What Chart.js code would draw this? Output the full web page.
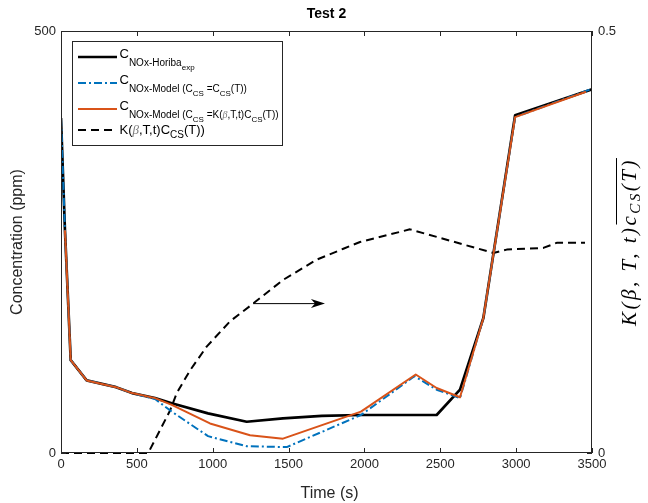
<!DOCTYPE html>
<html>
<head>
<meta charset="utf-8">
<script src="https://cdn.jsdelivr.net/npm/chart.js@4.4.1/dist/chart.umd.min.js"></script>
<style>
  html, body { margin: 0; padding: 0; background: #fff; }
</style>
</head>
<body>
<canvas id="chart" width="648" height="503"></canvas>
<script>
// Measured NOx (Horiba)
const tHoriba = [0, 26, 64, 169, 363, 468, 620, 730, 969, 1224, 1463, 1719, 1977, 2476, 2630, 2784, 2993, 3500];
const cHoriba = [397, 264, 110, 86, 78, 71, 65, 59, 47, 37, 41, 44, 45, 45, 75, 160, 400, 431];

// Model with C_CS = C_CS(T)
const tModelCs = [0, 26, 64, 169, 363, 468, 620, 730, 969, 1224, 1488, 1977, 2330, 2476, 2630, 2784, 2993, 3490];
const cModelCs = [397, 264, 110, 86, 78, 71, 64, 49, 20, 8, 7, 45, 91, 75, 65, 160, 398, 431];

// Model with C_CS = K(beta,T,t) C_CS(T)
const tModelK = [26, 64, 169, 363, 468, 620, 730, 982, 1246, 1463, 1977, 2338, 2476, 2630, 2784, 2993, 3460];
const cModelK = [264, 110, 86, 78, 71, 65, 57, 35, 21, 17, 49, 93, 77, 66, 160, 398, 428];

// K(beta,T,t) C_CS(T) on the right axis
const tK = [0, 575, 718, 763, 851, 960, 1114, 1266, 1463, 1685, 1861, 1971, 2300, 2850, 2938, 3179, 3267, 3454];
const kValues = [0, 0, 0.050, 0.071, 0.098, 0.126, 0.156, 0.177, 0.205, 0.229, 0.242, 0.250, 0.265, 0.237, 0.241, 0.243, 0.249, 0.249];

const xTicks = [0, 500, 1000, 1500, 2000, 2500, 3000, 3500];
const yTicks = [0, 500];
const y1Ticks = [0, 0.5];

// arrow pointing at the right axis
const arrowFrom = [1266, 0.177];
const arrowTo = [1740, 0.177];

const SANS = '"Liberation Sans", Arial, Helvetica, sans-serif';
const SERIF = '"Liberation Serif", "Times New Roman", serif';
const AXIS_COLOR = '#262626';

const BLACK = '#000000';
const BLUE = '#0072BD';
const ORANGE = '#D95319';

function pts(ts, vs) {
    return ts.map((t, i) => ({ x: t, y: vs[i] }));
}

// text runs with sub/superscript offsets
function drawRuns(ctx, x, y, runs) {
    runs.forEach(r => {
        ctx.font = (r.italic ? 'italic ' : '') + r.size + 'px ' + (r.serif ? SERIF : SANS);
        ctx.fillStyle = r.color || '#000';
        ctx.fillText(r.text, x, y + (r.dy || 0));
        x += ctx.measureText(r.text).width;
    });
    return x;
}

function runsWidth(ctx, runs) {
    let w = 0;
    runs.forEach(r => {
        ctx.font = (r.italic ? 'italic ' : '') + r.size + 'px ' + (r.serif ? SERIF : SANS);
        w += ctx.measureText(r.text).width;
    });
    return w;
}

const BETA = { text: 'β', size: 10, italic: true, serif: true, color: '#7a7a7a', dy: 8 };

const legendRows = [
    {
        color: BLACK, width: 2.7, dash: [],
        runs: [
            { text: 'C', size: 13 },
            { text: 'NOx-Horiba', size: 10, dy: 8 },
            { text: 'exp', size: 8, dy: 12 }
        ]
    },
    {
        color: BLUE, width: 2, dash: [8, 3, 2, 3],
        runs: [
            { text: 'C', size: 13 },
            { text: 'NOx-Model (C', size: 10, dy: 8 },
            { text: 'CS', size: 8, dy: 12 },
            { text: ' =C', size: 10, dy: 8 },
            { text: 'CS', size: 8, dy: 12 },
            { text: '(T))', size: 10, dy: 8 }
        ]
    },
    {
        color: ORANGE, width: 2, dash: [],
        runs: [
            { text: 'C', size: 13 },
            { text: 'NOx-Model (C', size: 10, dy: 8 },
            { text: 'CS', size: 8, dy: 12 },
            { text: ' =K(', size: 10, dy: 8 },
            BETA,
            { text: ',T,t)C', size: 10, dy: 8 },
            { text: 'CS', size: 8, dy: 12 },
            { text: '(T))', size: 10, dy: 8 }
        ]
    },
    {
        color: BLACK, width: 2, dash: [8, 5],
        runs: [
            { text: 'K(', size: 13 },
            { text: 'β', size: 13, italic: true, serif: true, color: '#7a7a7a' },
            { text: ',T,t)C', size: 13 },
            { text: 'CS', size: 10, dy: 4 },
            { text: '(T))', size: 13 }
        ]
    }
];

const decor = {
    id: 'decor',
    afterDraw(chart) {
        const ctx = chart.ctx;
        const a = chart.chartArea;
        const xs = chart.scales.x, ys = chart.scales.y, y1 = chart.scales.y1;
        ctx.save();

        // axes box
        ctx.strokeStyle = AXIS_COLOR;
        ctx.lineWidth = 1;
        ctx.setLineDash([]);
        ctx.strokeRect(Math.round(a.left) + 0.5, Math.round(a.top) + 0.5,
            Math.round(a.right - a.left) - 1, Math.round(a.bottom - a.top) - 1);

        // inward ticks
        ctx.beginPath();
        xTicks.forEach(v => {
            const px = Math.round(xs.getPixelForValue(v)) + 0.5;
            ctx.moveTo(px, a.bottom); ctx.lineTo(px, a.bottom - 5);
            ctx.moveTo(px, a.top); ctx.lineTo(px, a.top + 5);
        });
        yTicks.forEach(v => {
            const py = Math.round(ys.getPixelForValue(v)) + 0.5;
            ctx.moveTo(a.left, py); ctx.lineTo(a.left + 5, py);
        });
        y1Ticks.forEach(v => {
            const py = Math.round(y1.getPixelForValue(v)) + 0.5;
            ctx.moveTo(a.right, py); ctx.lineTo(a.right - 5, py);
        });
        ctx.stroke();

        const cx = (a.left + a.right) / 2;
        const cy = (a.top + a.bottom) / 2;

        // title
        ctx.fillStyle = '#000';
        ctx.textAlign = 'center';
        ctx.textBaseline = 'alphabetic';
        ctx.font = 'bold 14px ' + SANS;
        ctx.fillText('Test 2', cx, 18);

        // x label
        ctx.fillStyle = AXIS_COLOR;
        ctx.font = '16px ' + SANS;
        ctx.fillText('Time (s)', cx + 3, 498);

        // left y label
        ctx.save();
        ctx.translate(22, cy);
        ctx.rotate(-Math.PI / 2);
        ctx.fillText('Concentration (ppm)', 0, 0);
        ctx.restore();

        // right y label: K(beta,T,t) overline{c_CS(T)}
        const rl = [
            { text: 'K(β, T, t)', size: 21, italic: true, serif: true, color: '#000' },
            { text: 'c', size: 21, italic: true, serif: true, color: '#000' },
            { text: 'CS', size: 15, italic: true, serif: true, color: '#000', dy: 4 },
            { text: '(T)', size: 21, italic: true, serif: true, color: '#000' }
        ];
        ctx.save();
        ctx.translate(636, cy);
        ctx.rotate(-Math.PI / 2);
        ctx.textAlign = 'left';
        ctx.letterSpacing = '2.5px';
        const w = runsWidth(ctx, rl);
        const wFirst = runsWidth(ctx, rl.slice(0, 1));
        drawRuns(ctx, -w / 2, 0, rl);
        ctx.letterSpacing = '0px';
        ctx.strokeStyle = '#000';
        ctx.lineWidth = 1;
        ctx.beginPath();
        ctx.moveTo(-w / 2 + wFirst + 1, -19.5);
        ctx.lineTo(w / 2, -19.5);
        ctx.stroke();
        ctx.restore();

        // arrow
        const ax0 = xs.getPixelForValue(arrowFrom[0]);
        const ax1 = xs.getPixelForValue(arrowTo[0]);
        const ay = y1.getPixelForValue(arrowFrom[1]);
        ctx.strokeStyle = '#000';
        ctx.fillStyle = '#000';
        ctx.lineWidth = 1;
        ctx.beginPath();
        ctx.moveTo(ax0, ay); ctx.lineTo(ax1 - 6, ay);
        ctx.stroke();
        ctx.beginPath();
        ctx.moveTo(ax1, ay);
        ctx.lineTo(ax1 - 14, ay - 4.5);
        ctx.lineTo(ax1 - 10, ay);
        ctx.lineTo(ax1 - 14, ay + 4.5);
        ctx.closePath();
        ctx.fill();

        // legend
        const lx = 72.5, ly = 41.5, lw = 210, lh = 104;
        ctx.fillStyle = '#fff';
        ctx.fillRect(lx, ly, lw, lh);
        ctx.strokeStyle = '#262626';
        ctx.lineWidth = 1;
        ctx.strokeRect(lx, ly, lw, lh);
        const rowY = [57, 83, 109, 130];
        const baseY = [57.5, 83.5, 109.5, 134];
        ctx.textAlign = 'left';
        legendRows.forEach((row, i) => {
            ctx.strokeStyle = row.color;
            ctx.lineWidth = row.width;
            ctx.setLineDash(row.dash);
            ctx.beginPath();
            ctx.moveTo(78, rowY[i]);
            ctx.lineTo(117, rowY[i]);
            ctx.stroke();
            ctx.setLineDash([]);
            drawRuns(ctx, 119.5, baseY[i], row.runs);
        });

        ctx.restore();
    }
};

const tickFont = { family: SANS, size: 13 };
const plain = v => String(v);

new Chart(document.getElementById('chart'), {
    type: 'line',
    data: {
        datasets: [
            {
                label: 'NOx-Model K',
                data: pts(tModelK, cModelK),
                borderColor: ORANGE,
                borderWidth: 2,
                yAxisID: 'y',
                order: 0
            },
            {
                label: 'NOx-Model Ccs',
                data: pts(tModelCs, cModelCs),
                borderColor: BLUE,
                borderWidth: 2,
                borderDash: [8, 3, 2, 3],
                yAxisID: 'y',
                order: 1
            },
            {
                label: 'NOx-Horiba exp',
                data: pts(tHoriba, cHoriba),
                borderColor: BLACK,
                borderWidth: 2.7,
                yAxisID: 'y',
                order: 2
            },
            {
                label: 'K Ccs',
                data: pts(tK, kValues),
                borderColor: BLACK,
                borderWidth: 2,
                borderDash: [8, 5],
                yAxisID: 'y1',
                clip: 4,
                order: 3
            }
        ]
    },
    options: {
        responsive: false,
        animation: false,
        elements: {
            point: { radius: 0, hoverRadius: 0 },
            line: { tension: 0, fill: false, borderJoinStyle: 'round' }
        },
        layout: { padding: { top: 31, left: 0, right: 0, bottom: 0 } },
        plugins: {
            legend: { display: false },
            tooltip: { enabled: false },
            title: { display: false }
        },
        scales: {
            x: {
                type: 'linear',
                min: 0,
                max: 3500,
                afterBuildTicks: s => { s.ticks = xTicks.map(v => ({ value: v })); },
                ticks: { color: AXIS_COLOR, font: tickFont, padding: 4, maxRotation: 0, callback: plain },
                grid: { display: false, drawTicks: false },
                border: { display: false },
                afterFit: s => { s.height = 50; }
            },
            y: {
                type: 'linear',
                position: 'left',
                min: 0,
                max: 500,
                afterBuildTicks: s => { s.ticks = yTicks.map(v => ({ value: v })); },
                ticks: { color: AXIS_COLOR, font: tickFont, padding: 5, callback: plain },
                grid: { display: false, drawTicks: false },
                border: { display: false },
                afterFit: s => { s.width = 61; }
            },
            y1: {
                type: 'linear',
                position: 'right',
                min: 0,
                max: 0.5,
                afterBuildTicks: s => { s.ticks = y1Ticks.map(v => ({ value: v })); },
                ticks: { color: AXIS_COLOR, font: tickFont, padding: 6, callback: plain },
                grid: { display: false, drawTicks: false },
                border: { display: false },
                afterFit: s => { s.width = 56; }
            }
        }
    },
    plugins: [decor]
});
</script>
</body>
</html>
